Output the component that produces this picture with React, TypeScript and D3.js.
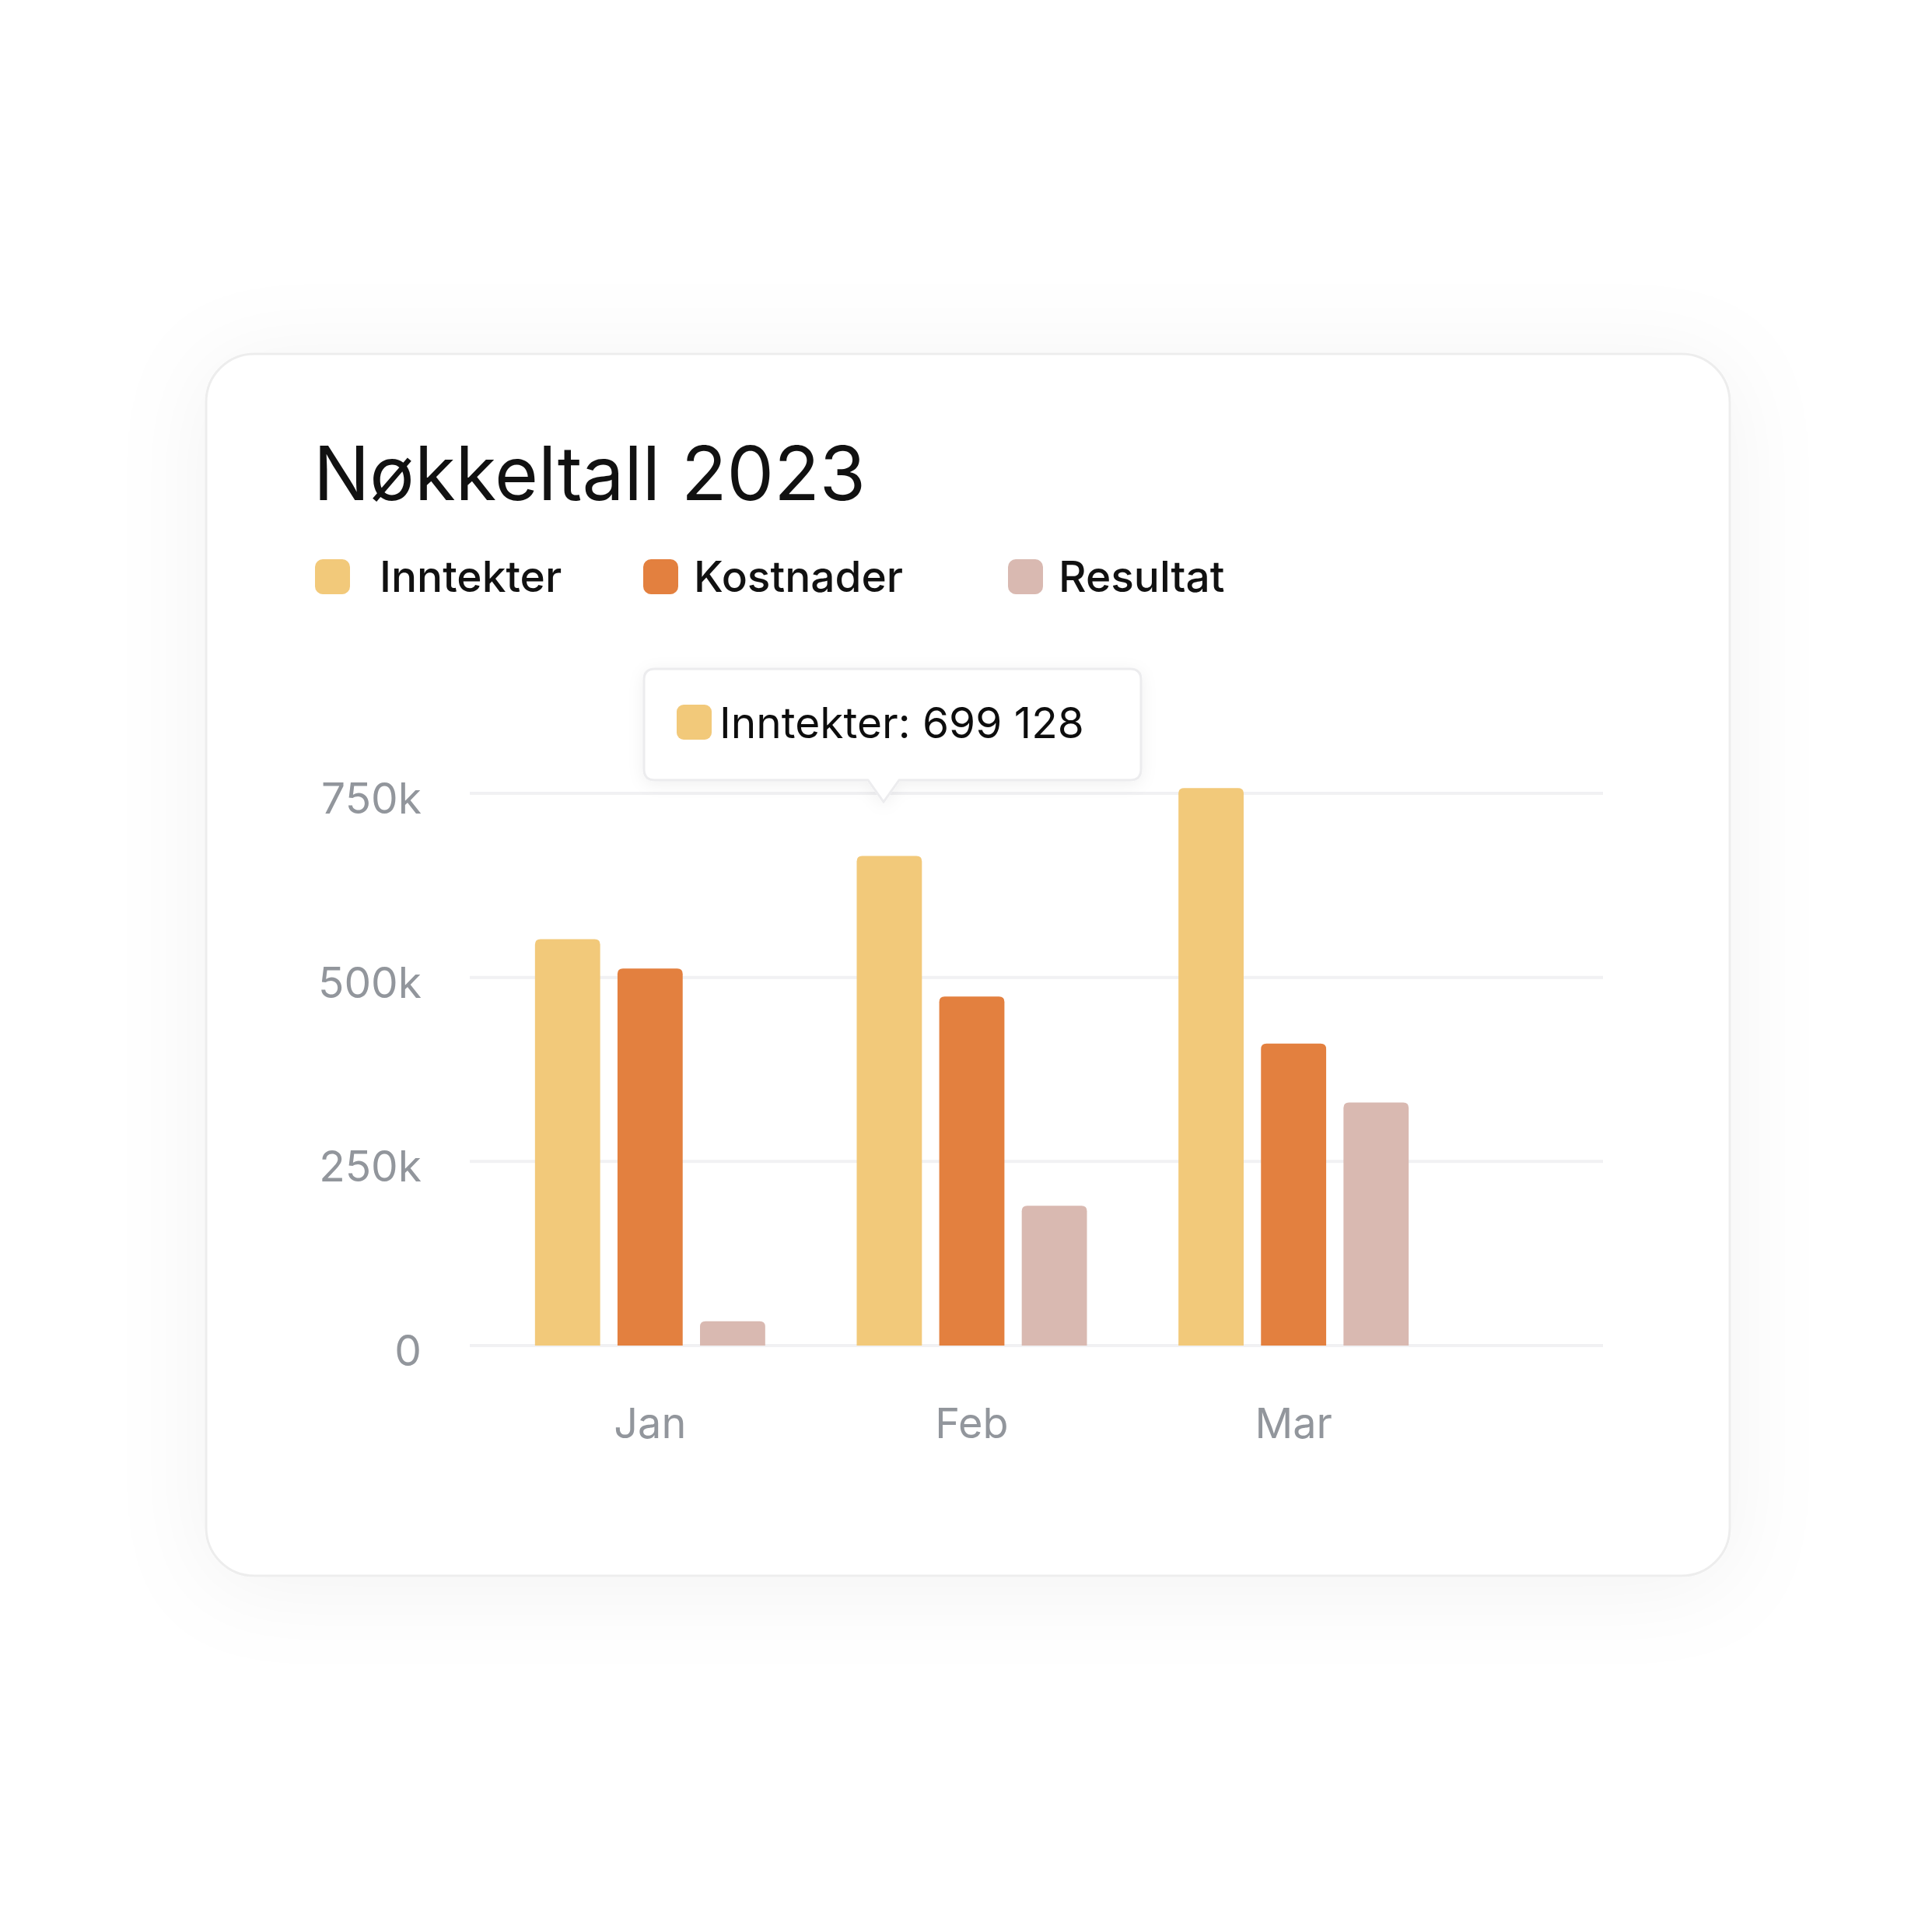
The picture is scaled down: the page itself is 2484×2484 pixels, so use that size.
import React, { useRef, useEffect } from 'react'
import * as d3 from 'd3'

const months = ['Jan', 'Feb', 'Mar']
const seriesNames = ['Inntekter', 'Kostnader', 'Resultat']
const inntekter = [552000, 665000, 757000]
const kostnader = [512000, 474000, 410000]
const resultat = [33000, 190000, 330000]
const yTicks = [0, 250000, 500000, 750000]
const tooltipText = 'Inntekter: 699 128'

const colors = ['#F2C97A', '#E3803F', '#D9B9B1']

// bar with only the top corners rounded
const topRounded = (x: number, y: number, w: number, h: number, r: number) => {
	const rr = Math.min(r, h / 2, w / 2)
	return `M${x},${y + h}V${y + rr}Q${x},${y} ${x + rr},${y}H${x + w - rr}Q${x + w},${y} ${x + w},${y + rr}V${y + h}Z`
}

const App = () => {
	const svgRef = useRef<SVGSVGElement | null>(null)
	const W = 2484,
		H = 2484

	useEffect(() => {
		const svg = d3.select(svgRef.current)
		svg.selectAll('*').remove()

		const defs = svg.append('defs')
		const f = defs
			.append('filter')
			.attr('id', 'cardShadow')
			.attr('x', '-20%')
			.attr('y', '-20%')
			.attr('width', '140%')
			.attr('height', '140%')
		f.append('feDropShadow')
			.attr('dx', 0)
			.attr('dy', 12)
			.attr('stdDeviation', 60)
			.attr('flood-color', '#000')
			.attr('flood-opacity', 0.05)
		const t = defs
			.append('filter')
			.attr('id', 'tipShadow')
			.attr('x', '-20%')
			.attr('y', '-40%')
			.attr('width', '140%')
			.attr('height', '180%')
		t.append('feDropShadow')
			.attr('dx', 0)
			.attr('dy', 4)
			.attr('stdDeviation', 10)
			.attr('flood-color', '#000')
			.attr('flood-opacity', 0.06)

		svg.append('rect').attr('width', W).attr('height', H).attr('fill', '#ffffff')

		// card
		svg
			.append('rect')
			.attr('x', 265)
			.attr('y', 455)
			.attr('width', 1959)
			.attr('height', 1571)
			.attr('rx', 62)
			.attr('fill', '#fff')
			.attr('stroke', '#ededed')
			.attr('stroke-width', 3)
			.attr('filter', 'url(#cardShadow)')

		const font = 'Inter, "Noto Sans", sans-serif'

		svg
			.append('text')
			.attr('x', 403)
			.attr('y', 643)
			.attr('font-family', font)
			.attr('font-size', 96)
			.attr('fill', '#111')
			.text('Nøkkeltall 2023')

		// legend
		const legendSq = [405, 827, 1296]
		const legendTx = [488, 892, 1361]
		seriesNames.forEach((name, i) => {
			svg
				.append('rect')
				.attr('x', legendSq[i])
				.attr('y', 719)
				.attr('width', 45)
				.attr('height', 45)
				.attr('rx', 10)
				.attr('fill', colors[i])
			svg
				.append('text')
				.attr('x', legendTx[i])
				.attr('y', 761)
				.attr('font-family', font)
				.attr('font-size', 55)
				.attr('font-weight', 500)
				.attr('fill', '#111')
				.text(name)
		})

		const y = d3.scaleLinear().domain([0, 750000]).range([1730, 1020])
		const x = d3.scaleBand().domain(months).range([629, 1870]).padding(0)
		const inner = d3
			.scaleBand()
			.domain(seriesNames)
			.range([-148, 148])
			.paddingInner(0.21)
			.paddingOuter(0)

		// grid
		svg
			.append('g')
			.selectAll('line')
			.data(yTicks)
			.enter()
			.append('line')
			.attr('x1', 604)
			.attr('x2', 2061)
			.attr('y1', (d) => y(d))
			.attr('y2', (d) => y(d))
			.attr('stroke', '#f1f1f3')
			.attr('stroke-width', 4)

		svg
			.append('g')
			.selectAll('text')
			.data(yTicks)
			.enter()
			.append('text')
			.attr('x', 542)
			.attr('y', (d) => y(d) + 6)
			.attr('text-anchor', 'end')
			.attr('dominant-baseline', 'central')
			.attr('font-family', font)
			.attr('font-size', 55)
			.attr('fill', '#92969c')
			.text((d) => (d === 0 ? '0' : `${d / 1000}k`))

		const values = [inntekter, kostnader, resultat]
		const rows = months.flatMap((m, mi) =>
			seriesNames.map((s, si) => ({ m, s, si, v: values[si][mi] }))
		)

		svg
			.append('g')
			.selectAll('path')
			.data(rows)
			.enter()
			.append('path')
			.attr('d', (d) =>
				topRounded(
					x(d.m)! + x.bandwidth() / 2 + inner(d.s)!,
					y(d.v),
					inner.bandwidth(),
					y(0) - y(d.v),
					7
				)
			)
			.attr('fill', (d) => colors[d.si])

		svg
			.append('g')
			.selectAll('text')
			.data(months)
			.enter()
			.append('text')
			.attr('x', (d) => x(d)! + x.bandwidth() / 2)
			.attr('y', 1849)
			.attr('text-anchor', 'middle')
			.attr('font-family', font)
			.attr('font-size', 54)
			.attr('fill', '#92969c')
			.text((d) => d)

		// tooltip
		const tip = svg.append('g').attr('filter', 'url(#tipShadow)')
		tip
			.append('path')
			.attr(
				'd',
				'M842,860H1453Q1467,860 1467,874V989Q1467,1003 1453,1003H1156L1136,1031L1116,1003H842Q828,1003 828,989V874Q828,860 842,860Z'
			)
			.attr('fill', '#fff')
			.attr('stroke', '#ececee')
			.attr('stroke-width', 3)
		tip
			.append('rect')
			.attr('x', 870)
			.attr('y', 906)
			.attr('width', 45)
			.attr('height', 45)
			.attr('rx', 9)
			.attr('fill', colors[0])
		tip
			.append('text')
			.attr('x', 925)
			.attr('y', 949)
			.attr('font-family', font)
			.attr('font-size', 55)
			.attr('fill', '#111')
			.text(tooltipText)
	}, [])

	return (
		<svg
			ref={svgRef}
			width={W}
			height={H}
			style={{ position: 'absolute', left: 0, top: 0, display: 'block' }}
		></svg>
	)
}

export default App
